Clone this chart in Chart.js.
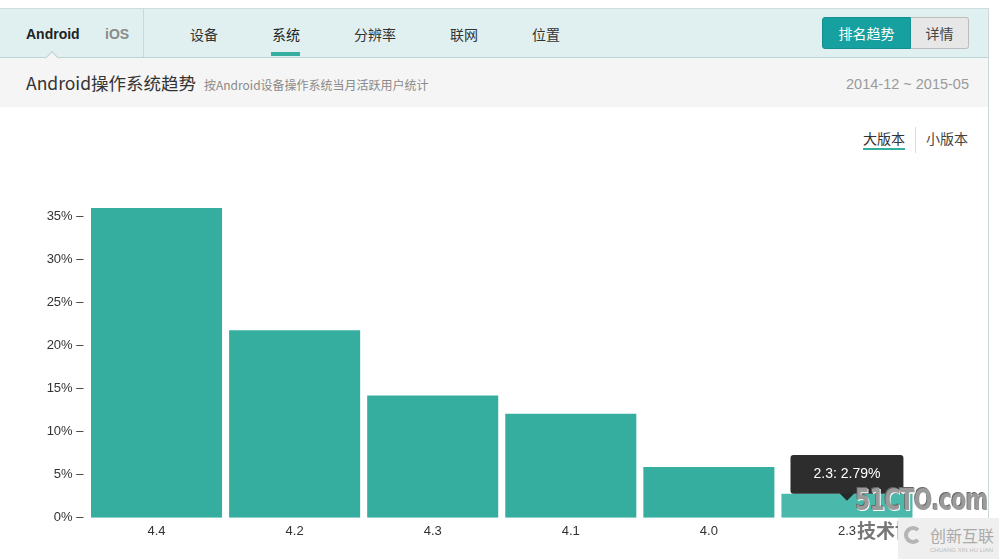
<!DOCTYPE html>
<html>
<head>
<meta charset="utf-8">
<script src="https://cdn.jsdelivr.net/npm/chart.js@4.4.1/dist/chart.umd.min.js"></script>
<style>
  body { margin: 0; width: 999px; height: 559px; overflow: hidden; background: #fff;
         font-family: "Liberation Sans", "Noto Sans CJK SC", sans-serif; color: #333; position: relative; }
  .abs { position: absolute; white-space: nowrap; }
  .frame { left: 0; top: 8px; width: 988px; height: 560px; border-top: 1px solid #c9dede; border-right: 1px solid #cfd8d8; }
  .head { left: 0; top: 9px; width: 988px; height: 48px; background: #e0f0f0; border-bottom: 1px solid #bcd3d3; }
  .band { left: 0; top: 58px; width: 988px; height: 49px; background: #f5f5f5; }
  .sep { left: 143px; top: 9px; width: 1px; height: 48px; background: #c6dada; }
  .notch { left: 47px; top: 53px; width: 9px; height: 9px; background: #f5f5f5; border-left: 1px solid #bcd3d3; border-top: 1px solid #bcd3d3; transform: rotate(45deg); }
  .tab { top: 25px; font-size: 14px; line-height: 18px; }
  .nav { top: 25px; font-size: 14px; line-height: 18px; color: #333; font-family: "Noto Sans CJK SC", sans-serif; }
  .btn { top: 17px; height: 30px; line-height: 30px; font-size: 14px; text-align: center; font-family: "Noto Sans CJK SC", sans-serif; }
  #chartBox { position: absolute; left: 0; top: 180px; width: 916px; height: 370px; }
</style>
</head>
<body>
<div class="abs frame"></div>
<div class="abs head"></div>
<div class="abs band"></div>
<div class="abs sep"></div>
<div class="abs notch"></div>

<div class="abs tab" style="left:26px; font-weight:bold; color:#222;">Android</div>
<div class="abs tab" style="left:105px; font-weight:bold; color:#8a8a8a;">iOS</div>

<div class="abs nav" style="left:190px;">设备</div>
<div class="abs nav" style="left:272px; color:#222;">系统</div>
<div class="abs" style="left:271px; top:52px; width:29px; height:4px; background:#35ae9f;"></div>
<div class="abs nav" style="left:354px;">分辨率</div>
<div class="abs nav" style="left:450px;">联网</div>
<div class="abs nav" style="left:532px;">位置</div>

<div class="abs btn" style="left:822px; width:89px; background:#17a0a0; color:#fff; border-radius:3px 0 0 3px; border:1px solid #138f8f; box-sizing:border-box; height:32px; line-height:30px;">排名趋势</div>
<div class="abs btn" style="left:911px; width:58px; background:#e7e7e7; color:#444; border:1px solid #bdbdbd; border-left:none; border-radius:0 3px 3px 0; box-sizing:border-box; height:32px; line-height:30px;">详情</div>

<div class="abs" style="left:26px; top:71px; font-size:17.5px; line-height:24px; color:#333; font-family:'Noto Sans CJK SC', sans-serif;">Android操作系统趋势</div>
<div class="abs" style="left:204px; top:77px; font-size:12px; line-height:16px; color:#8a8a8a; font-family:'Noto Sans CJK SC', sans-serif;">按Android设备操作系统当月活跃用户统计</div>
<div class="abs" style="right:30px; top:75px; font-size:14.5px; line-height:18px; color:#9a9a9a;">2014-12 ~ 2015-05</div>

<div class="abs" style="left:863px; top:129px; font-size:14px; line-height:18px; color:#333; font-family:'Noto Sans CJK SC', sans-serif;">大版本</div>
<div class="abs" style="left:863px; top:148px; width:42px; height:2px; background:#35ae9f;"></div>
<div class="abs" style="left:915px; top:127px; width:1px; height:26px; background:#dcdcdc;"></div>
<div class="abs" style="left:926px; top:129px; font-size:14px; line-height:18px; color:#444; font-family:'Noto Sans CJK SC', sans-serif;">小版本</div>

<div id="chartBox"><canvas id="osChart"></canvas></div>

<!-- watermark -->
<div class="abs" style="left:855px; top:484px; font-size:30px; line-height:32px; font-weight:bold; color:#9a9a9a; font-family:'DejaVu Sans Condensed', sans-serif; letter-spacing:-1px; transform:scaleX(0.82); transform-origin:left; text-shadow:1px 1px 0 #fff, -1px -1px 0 #666;">51CTO.com</div>
<div class="abs" style="left:857px; top:518px; font-size:19px; line-height:24px; font-weight:bold; color:#777; font-family:'Noto Sans CJK SC', sans-serif;">技术博客</div>
<div class="abs" style="left:898px; top:518px; width:101px; height:41px; background:#efefef;"></div>
<div class="abs" style="left:904px; top:526px; width:18px; height:18px; border:4px solid #b5b5b5; border-radius:50%; box-sizing:border-box; border-right-color:transparent;"></div>
<div class="abs" style="left:930px; top:525px; font-size:16px; line-height:20px; color:#aaa; font-family:'Noto Sans CJK SC', sans-serif;">创新互联</div>
<div class="abs" style="left:930px; top:546px; font-size:6px; line-height:8px; color:#bbb;">CHUANG XIN HU LIAN</div>

<script>
// Android version share (percent of monthly active users)
const versions = ['4.4', '4.2', '4.3', '4.1', '4.0', '2.3'];
const shares = [36.0, 21.8, 14.2, 12.1, 5.9, 2.79];
const yTickValues = [0, 5, 10, 15, 20, 25, 30, 35];

Chart.defaults.font.family = '"Liberation Sans", Arial, sans-serif';
Chart.defaults.color = '#333';

const ctx = document.getElementById('osChart').getContext('2d');
const osChart = new Chart(ctx, {
    type: 'bar',
    data: {
        labels: versions,
        datasets: [{
            label: 'Android',
            data: shares,
            backgroundColor: '#35ae9f',
            hoverBackgroundColor: '#4ab8ab',
            borderWidth: 0,
            barPercentage: 0.949,
            categoryPercentage: 1
        }]
    },
    options: {
        responsive: true,
        maintainAspectRatio: false,
        animation: false,
        events: [],
        layout: {
            padding: { top: 19.5, left: 0, right: 0, bottom: 0 }
        },
        scales: {
            x: {
                grid: { display: false, drawTicks: false },
                border: { display: false },
                ticks: { font: { size: 13 }, color: '#333', padding: 6 },
                afterFit: s => { s.height = 32.3; }
            },
            y: {
                min: 0,
                max: 37,
                grid: { display: false, drawTicks: false },
                border: { display: false },
                afterBuildTicks: s => { s.ticks = yTickValues.map(v => ({ value: v })); },
                ticks: {
                    font: { size: 13 },
                    color: '#333',
                    padding: 4,
                    callback: v => v + '% \u2013'
                },
                afterFit: s => { s.width = 87.5; }
            }
        },
        plugins: {
            legend: { display: false },
            tooltip: {
                backgroundColor: 'rgba(34, 34, 34, 0.95)',
                bodyColor: '#fff',
                bodyFont: { size: 14 },
                padding: { top: 11, bottom: 11, left: 23, right: 23 },
                cornerRadius: 3,
                caretSize: 7,
                caretPadding: -7,
                displayColors: false,
                xAlign: 'center',
                yAlign: 'bottom',
                callbacks: {
                    title: () => '',
                    label: c => c.label + ': ' + c.parsed.y + '%'
                }
            }
        }
    }
});

// show the hovered state on the last bar, as in the screenshot
const active = [{ datasetIndex: 0, index: 5 }];
osChart.setActiveElements(active);
osChart.tooltip.setActiveElements(active, { x: 0, y: 0 });
osChart.update();
</script>
</body>
</html>
